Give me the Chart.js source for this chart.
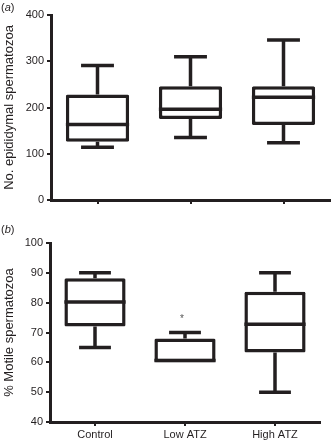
<!DOCTYPE html>
<html>
<head>
<meta charset="utf-8">
<script src="https://cdn.jsdelivr.net/npm/chart.js@4/dist/chart.umd.min.js"></script>
<style>
  body { margin: 0; background: #fff; font-family: "Liberation Sans", Arial, sans-serif; }
  #wrap { position: relative; width: 332px; height: 444px; }
  .panel { position: absolute; left: 0; width: 332px; }
  .tag { position: absolute; left: 1px; font-size: 11px; color: #231f20; }
</style>
</head>
<body>
<div id="wrap">
  <div class="panel" style="top:0;height:218px"><canvas id="plotsCount"></canvas></div>
  <div class="panel" style="top:220px;height:224px"><canvas id="plotsMotile"></canvas></div>
  <span class="tag" style="top:1px">(<i>a</i>)</span>
  <span class="tag" style="top:223px">(<i>b</i>)</span>
</div>
<script>
// grupos
const categories = ['Control', 'Low ATZ', 'High ATZ'];

// (a) numero de espermatozoides no epididimo
const countMin = [114, 135, 124];
const countQ1 = [126, 175, 162];
const countMed = [163, 196, 222];
const countQ3 = [228, 246, 246];
const countMax = [291, 310, 346];
const countTicks = [0, 100, 200, 300, 400];

// (b) % de espermatozoides moveis
const motileMin = [65, 60, 50];
const motileQ1 = [72, 60, 63.3];
const motileMed = [80.2, 60, 72.8];
const motileQ3 = [88.2, 68, 83.7];
const motileMax = [90, 70, 90];
const motileStars = [null, 75.6, null];
const motileTicks = [40, 50, 60, 70, 80, 90, 100];

const ink = '#231f20';
const fontName = '"Liberation Sans", Arial, sans-serif';
const lw = 3.5;

// desenha mediana, bigodes e asteriscos usando as escalas do grafico
const boxExtras = {
    id: 'boxExtras',
    afterDatasetsDraw(chart, args, opts) {
        const ctx = chart.ctx;
        const x = chart.scales.x;
        const y = chart.scales.y;
        const meta = chart.getDatasetMeta(0);
        ctx.save();
        ctx.strokeStyle = ink;
        ctx.lineWidth = lw;
        for (let i = 0; i < categories.length; i++) {
            const bar = meta.data[i];
            const cx = x.getPixelForValue(i);
            const half = bar.width / 2;
            const cap = bar.width * 0.26;
            const yQ1 = y.getPixelForValue(opts.q1[i]);
            const yQ3 = y.getPixelForValue(opts.q3[i]);
            const yMin = y.getPixelForValue(opts.min[i]);
            const yMax = y.getPixelForValue(opts.max[i]);
            // mediana fica dentro da caixa (quando coincide com o quartil)
            let yMed = y.getPixelForValue(opts.med[i]);
            yMed = Math.min(Math.max(yMed, yQ3 + lw / 2), yQ1 - lw / 2);

            ctx.beginPath();
            ctx.moveTo(cx - half, yMed);
            ctx.lineTo(cx + half, yMed);
            // bigode superior
            ctx.moveTo(cx, yQ3);
            ctx.lineTo(cx, yMax);
            ctx.moveTo(cx - cap, yMax);
            ctx.lineTo(cx + cap, yMax);
            // bigode inferior
            if (opts.min[i] < opts.q1[i]) {
                ctx.moveTo(cx, yQ1);
                ctx.lineTo(cx, yMin);
                ctx.moveTo(cx - cap, yMin);
                ctx.lineTo(cx + cap, yMin);
            }
            ctx.stroke();

            if (opts.stars && opts.stars[i] != null) {
                ctx.fillStyle = '#555';
                ctx.font = '10px ' + fontName;
                ctx.textAlign = 'center';
                ctx.textBaseline = 'middle';
                ctx.fillText('*', cx - 3, y.getPixelForValue(opts.stars[i]) + 3);
            }
        }
        ctx.restore();
    }
};

function makeBoxChart(canvas, q1, q3, extras, yCfg, layout) {
    return new Chart(canvas, {
        type: 'bar',
        data: {
            labels: categories,
            datasets: [{
                data: q1.map((v, i) => [v, q3[i]]),
                backgroundColor: '#fff',
                borderColor: ink,
                borderWidth: lw,
                borderSkipped: false,
                borderRadius: 1.5,
                barPercentage: 0.68,
                categoryPercentage: 1
            }]
        },
        options: {
            responsive: true,
            maintainAspectRatio: false,
            animation: false,
            layout: { padding: layout.padding },
            plugins: {
                legend: { display: false },
                tooltip: { enabled: false },
                boxExtras: extras
            },
            scales: {
                x: {
                    offset: true,
                    afterFit: s => { s.height = layout.xHeight; },
                    border: { display: true, color: ink, width: 3 },
                    grid: { display: true, offset: false, drawOnChartArea: false, drawTicks: true, tickLength: 4, color: ink, lineWidth: 2 },
                    ticks: { display: layout.xLabels, color: ink, padding: 2, font: { family: fontName, size: 11 } }
                },
                y: {
                    min: yCfg.ticks[0],
                    max: yCfg.ticks[yCfg.ticks.length - 1],
                    afterFit: s => { s.width = layout.yWidth; },
                    afterBuildTicks: s => { s.ticks = yCfg.ticks.map(v => ({ value: v })); },
                    border: { display: true, color: ink, width: 3 },
                    grid: { display: true, drawOnChartArea: false, drawTicks: true, tickLength: 4, color: ink, lineWidth: 2 },
                    ticks: { color: ink, padding: 3, font: { family: fontName, size: 11 } },
                    title: { display: true, text: yCfg.title, color: ink, padding: 2, font: { family: fontName, size: 13 } }
                }
            }
        },
        plugins: [boxExtras]
    });
}

makeBoxChart(document.getElementById('plotsCount'), countQ1, countQ3,
    { q1: countQ1, q3: countQ3, med: countMed, min: countMin, max: countMax },
    { ticks: countTicks, title: 'No. epididymal spermatozoa' },
    { padding: { top: 15, right: 2, left: 0, bottom: 0 }, xHeight: 18, yWidth: 51, xLabels: false });

makeBoxChart(document.getElementById('plotsMotile'), motileQ1, motileQ3,
    { q1: motileQ1, q3: motileQ3, med: motileMed, min: motileMin, max: motileMax, stars: motileStars },
    { ticks: motileTicks, title: '% Motile spermatozoa' },
    { padding: { top: 23, right: 12, left: 0, bottom: 0 }, xHeight: 22, yWidth: 50, xLabels: true });
</script>
</body>
</html>
